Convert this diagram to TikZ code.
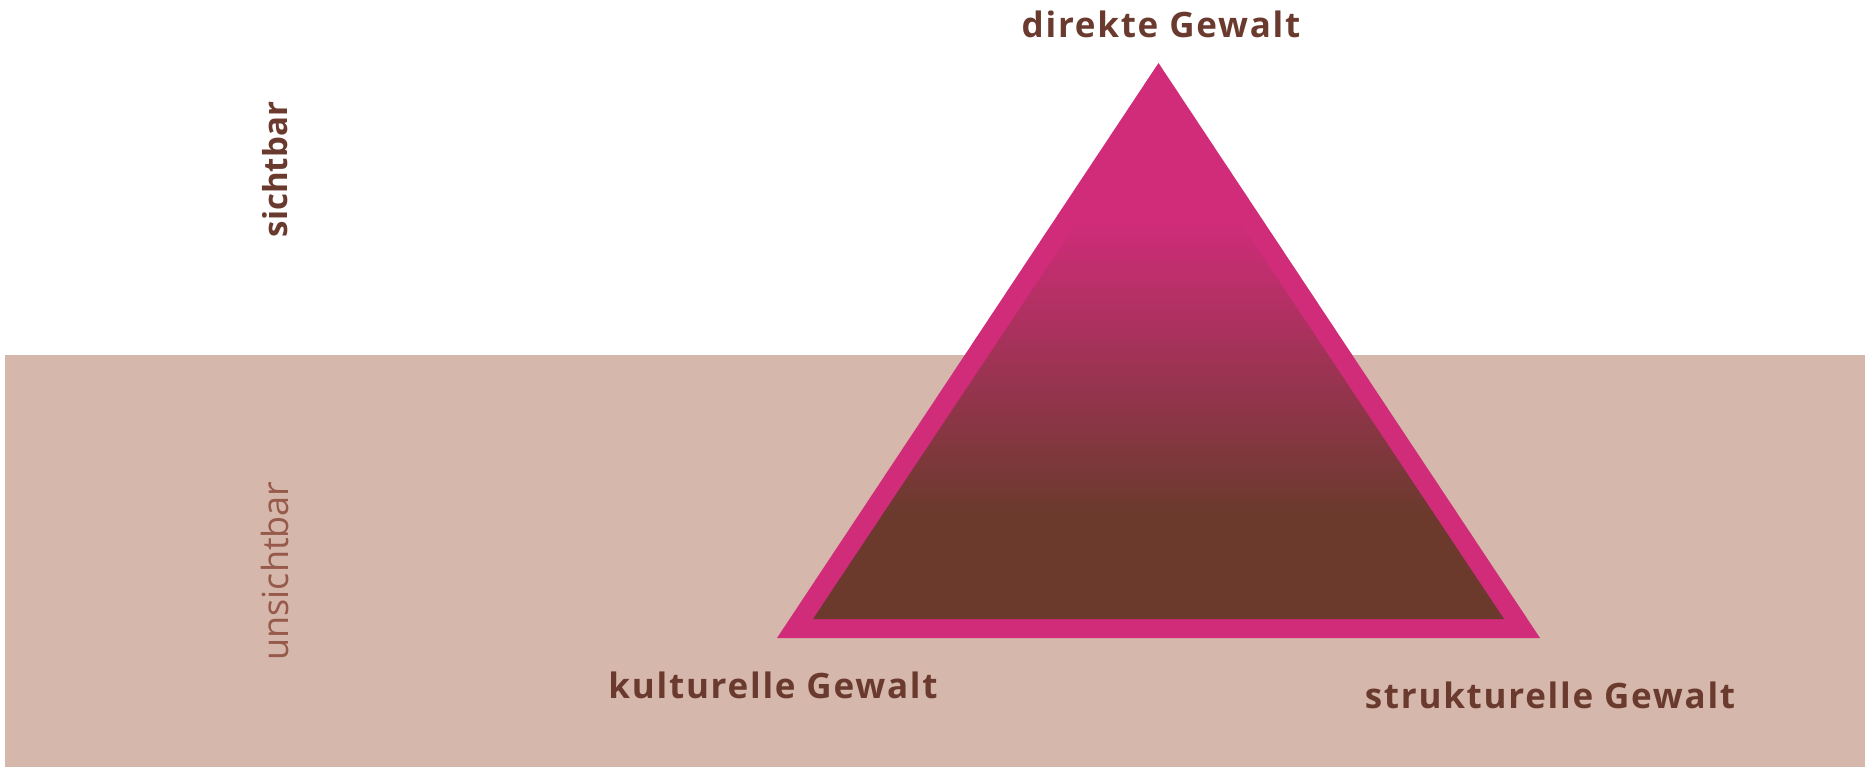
\documentclass[tikz,border=0pt]{standalone}
\usepackage{fontspec}
\setmainfont{Open Sans}
\definecolor{mag}{HTML}{D02C7A}
\definecolor{brn}{HTML}{6B3A2D}
\definecolor{bandc}{HTML}{D5B7AB}
\definecolor{txt}{HTML}{6B3A2E}
\definecolor{ltxt}{HTML}{96594A}
\tikzset{
  lbl/.style={inner sep=0pt, text=txt, font=\fontsize{35}{42}\selectfont\bfseries\addfontfeatures{LetterSpace=5}},
  side/.style={inner sep=0pt, rotate=90}
}
\begin{document}
\begin{tikzpicture}[x=1pt,y=-1pt]
\useasboundingbox (0,0) rectangle (1865,767);
\fill[white] (0,0) rectangle (1865,767);
\fill[bandc] (5,355) rectangle (1865,767);
\coordinate (A) at (1158.5,63);
\coordinate (L) at (777,638);
\coordinate (R) at (1540,638);
\fill[mag] (A) -- (L) -- (R) -- cycle;
\coordinate (iA) at (1158.5,100);
\coordinate (iL) at (813,619);
\coordinate (iR) at (1504,619);
\begin{scope}
\clip (iA) -- (iL) -- (iR) -- cycle;
\fill[mag] (800,90) rectangle (1520,221);
\shade[top color=mag, bottom color=brn] (800,220) rectangle (1520,512);
\fill[brn] (800,511) rectangle (1520,630);
\end{scope}
\node[lbl, anchor=base] (dir) at (1161,38) {direkte Gewalt};
\node[lbl, anchor=base] (kul) at (773,698) {kulturelle Gewalt};
\node[lbl, anchor=base] (str) at (1550,708) {strukturelle Gewalt};
\node[side, text=txt, font=\fontsize{33}{40}\selectfont\bfseries] (sicht) at (275.5,169.5) {sichtbar};
\node[side, text=ltxt, font=\fontsize{36}{42}\selectfont] (unsicht) at (275,571) {unsichtbar};
\end{tikzpicture}
\end{document}
